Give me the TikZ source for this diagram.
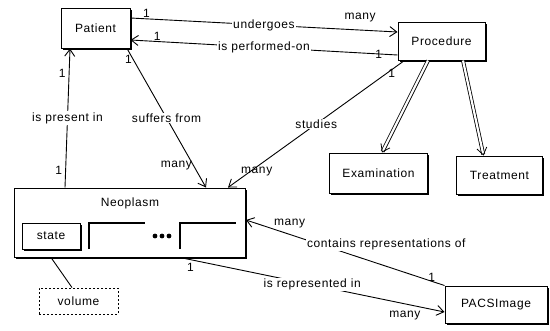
\documentclass[tikz,border=0pt]{standalone}
\usepackage{fontspec}
\setmainfont{Liberation Sans}[LetterSpace=5]
\usepackage{tikz}
\usetikzlibrary{arrows.meta,shadows}

\begin{document}
\begin{tikzpicture}[x=1pt,y=-1pt,line width=0.9pt,
  font=\fontsize{12}{14}\selectfont,
  cls/.style={draw,line width=1pt,fill=white,inner sep=2pt,
    drop shadow={shadow xshift=1.8pt,shadow yshift=-1.8pt,fill=black,opacity=1}},
  assoc/.style={-{Straight Barb[length=7pt,width=10pt]}},
  isa/.style={double,double distance=2.2pt,line width=0.8pt,-{Straight Barb[length=7pt,width=10pt]}},
  lbl/.style={fill=white,inner sep=1pt},
  mult/.style={inner sep=1pt}]
\useasboundingbox (0,0) rectangle (550,330);
% classes
\node[cls,minimum width=69pt,minimum height=40pt] (pat) at (95.5,28) {Patient};
\node[cls,minimum width=87pt,minimum height=38pt] (proc) at (441.5,41) {Procedure};
\node[cls,minimum width=98pt,minimum height=40pt] (exam) at (378.5,173) {Examination};
\node[cls,minimum width=86pt,minimum height=38pt] (treat) at (499.5,175) {Treatment};
\node[cls,minimum width=102pt,minimum height=37pt] (pacs) at (496,304.5) {PACSImage};
\node[cls,minimum width=231pt,minimum height=69pt] (neo) at (130,222.5) {};
\node (neoname) at (130,203) {Neoplasm};
% attribute compartments
\node[cls,minimum width=58pt,minimum height=26pt] (state) at (51,236) {state};
\draw[line width=1.4pt] (89,249) -- (89,223) -- (145,223);
\draw[line width=1.4pt] (180,249) -- (180,223) -- (236,223);
\foreach \x in {155,162,169} \fill (\x,236) circle (2.4pt);
\node[draw,dash pattern=on 2pt off 2pt,minimum width=79pt,minimum height=26pt] (vol) at (78.5,301) {volume};
\draw ([xshift=-79pt]neo.south) -- ([xshift=-6.5pt]vol.north);
% associations
\draw[assoc] ([yshift=10pt]pat.east) -- node[lbl]{undergoes}
  node[mult,pos=0.06,above]{1} node[mult,pos=0.86,above=7pt]{many} ([yshift=9pt]proc.west);
\draw[assoc] ([yshift=-14pt]proc.west) -- node[lbl]{is performed-on}
  node[mult,pos=0.07]{1} node[mult,pos=0.9,above=0pt]{1} ([yshift=-12pt]pat.east);
\draw[assoc] ([xshift=-37pt]proc.south) -- node[lbl]{studies}
  node[mult,pos=0.1,right]{1} node[mult,pos=0.86,xshift=4pt,yshift=-2pt]{many} ([xshift=98pt]neo.north);
\draw[assoc] ([xshift=31.5pt]pat.south) -- node[lbl]{suffers from}
  node[mult,pos=0.08,left]{1} node[mult,pos=0.84,left=0pt]{many} ([xshift=76pt]neo.north);
\draw[assoc] ([xshift=-65pt]neo.north) -- node[lbl]{is present in}
  node[mult,pos=0.12,left=2pt]{1} node[mult,pos=0.82,left=2pt]{1} ([xshift=-25.5pt]pat.south);
\draw[assoc] (pacs.north west) -- node[lbl,pos=0.70,anchor=west,yshift=-5pt]{contains representations of}
  node[mult,pos=0.04,above left=0pt]{1} node[mult,pos=0.78,above=5pt]{many} ([yshift=2.5pt]neo.east);
\draw[assoc] ([xshift=50pt]neo.south) -- node[lbl]{is represented in}
  node[mult,pos=0.04,below=2pt]{1} node[mult,pos=0.85,below=6pt]{many} ([yshift=-7.5pt]pacs.west);
% generalisation
\draw[isa] ([xshift=-13.5pt]proc.south) -- ([xshift=3.5pt]exam.north);
\draw[isa] ([xshift=21.5pt]proc.south) -- ([xshift=-16pt]treat.north);
\end{tikzpicture}
\end{document}
